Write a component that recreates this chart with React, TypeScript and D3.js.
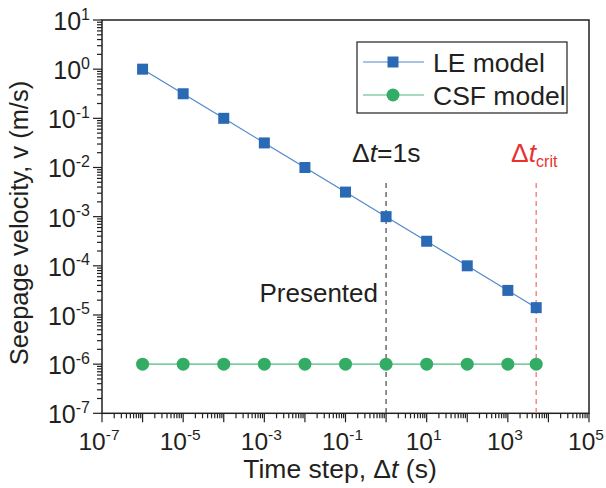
import React from "react";
import * as d3 from "d3";

const timeSteps = [1e-6, 1e-5, 1e-4, 1e-3, 1e-2, 1e-1, 1, 10, 100, 1000, 5000];
const leVelocity = [1, 0.316, 0.1, 0.0316, 0.01, 0.00316, 0.001, 3.16e-4, 1e-4, 3.16e-5, 1.41e-5];
const csfVelocity = [1e-6, 1e-6, 1e-6, 1e-6, 1e-6, 1e-6, 1e-6, 1e-6, 1e-6, 1e-6, 1e-6];
const xTickExps = [-7, -5, -3, -1, 1, 3, 5];
const yTickExps = [1, 0, -1, -2, -3, -4, -5, -6, -7];
const presentedStep = 1;
const criticalStep = 5000;

const W = 606, H = 488;
const L = 102, R = 589, T = 20, B = 413.3;
const FONT = "'Liberation Sans', Arial, Helvetica, sans-serif";
const AX = "#231f20";
const BLUE = "#2a6ab5";
const BLUE_LINE = "#4f88c9";
const GREEN = "#33ad66";
const GREEN_LINE = "#4dbb7b";
const RED = "#e8312f";

export default function App() {
  const x = d3.scaleLog().domain([1e-7, 1e5]).range([L, R]);
  const y = d3.scaleLog().domain([1e-7, 1e1]).range([B, T]);
  const le = timeSteps.map((t, i) => [t, leVelocity[i]] as [number, number]);
  const csf = timeSteps.map((t, i) => [t, csfVelocity[i]] as [number, number]);
  const line = d3.line<[number, number]>().x(d => x(d[0])).y(d => y(d[1]));

  const xMinor: number[] = [];
  for (let e = -7; e < 5; e++) for (let m = 1; m <= 9; m++) xMinor.push(m * Math.pow(10, e));
  const yMinor: number[] = [];
  for (let e = -7; e < 1; e++) for (let m = 1; m <= 9; m++) yMinor.push(m * Math.pow(10, e));

  return (
    <div style={{ position: "fixed", left: 0, top: 0 }}>
      <svg width={W} height={H} style={{ display: "block", background: "#fff" }} fontFamily={FONT}>
        {/* frame */}
        <rect x={L} y={T} width={R - L} height={B - T} fill="none" stroke={AX} strokeWidth={1.5} />
        {/* x ticks */}
        {xMinor.map((v, i) => {
          const major = Math.abs(Math.log10(v) - Math.round(Math.log10(v))) < 1e-9;
          return <line key={"xm" + i} x1={x(v)} x2={x(v)} y1={B} y2={B + (major ? 9 : 5)} stroke={AX} strokeWidth={1.2} />;
        })}
        {yMinor.map((v, i) => {
          const major = Math.abs(Math.log10(v) - Math.round(Math.log10(v))) < 1e-9;
          return <line key={"ym" + i} x1={L} x2={L - (major ? 9 : 5)} y1={y(v)} y2={y(v)} stroke={AX} strokeWidth={1.2} />;
        })}
        <line x1={L - 9} x2={L} y1={T} y2={T} stroke={AX} strokeWidth={1.2} />
        <line x1={R} x2={R} y1={B} y2={B + 9} stroke={AX} strokeWidth={1.2} />
        {/* x tick labels */}
        {xTickExps.map(e => (
          <text key={"xl" + e} x={x(Math.pow(10, e)) - 3} y={450} fontSize={24.5} textAnchor="middle" fill={AX}>
            10<tspan fontSize={15.5} dy={-10}>{e < 0 ? "-" + Math.abs(e) : e}</tspan>
          </text>
        ))}
        {/* y tick labels */}
        {yTickExps.map(e => (
          <text key={"yl" + e} x={90} y={y(Math.pow(10, e)) + 10} fontSize={25} textAnchor="end" fill={AX}>
            10<tspan fontSize={16} dy={-10.5}>{e < 0 ? "-" + Math.abs(e) : e}</tspan>
          </text>
        ))}
        {/* axis titles */}
        <text x={340} y={478} fontSize={26.5} textAnchor="middle" fill={AX}>
          Time step, Δ<tspan fontStyle="italic">t</tspan> (s)
        </text>
        <text transform="translate(28,223) rotate(-90)" fontSize={25.5} textAnchor="middle" fill={AX}>
          Seepage velocity, v (m/s)
        </text>
        {/* reference lines */}
        <line x1={x(presentedStep)} x2={x(presentedStep)} y1={183} y2={B} stroke="#555" strokeWidth={1.3} strokeDasharray="5,4" />
        <line x1={x(criticalStep)} x2={x(criticalStep)} y1={183} y2={B} stroke="#f08a8a" strokeWidth={1.5} strokeDasharray="5,4" />
        <text x={352} y={162} fontSize={26.5} fill={AX}>
          Δ<tspan fontStyle="italic">t</tspan>=1s
        </text>
        <text x={511} y={162} fontSize={26.5} fill={RED}>
          Δ<tspan fontStyle="italic">t</tspan><tspan fontSize={16} dy={5}>crit</tspan>
        </text>
        <text x={378} y={302} fontSize={26} textAnchor="end" fill={AX}>Presented</text>
        {/* series */}
        <path d={line(le) || ""} fill="none" stroke={BLUE_LINE} strokeWidth={1.2} />
        <path d={line(csf) || ""} fill="none" stroke={GREEN_LINE} strokeWidth={1.2} />
        {le.map((d, i) => (
          <rect key={"s" + i} x={x(d[0]) - 5.5} y={y(d[1]) - 5.5} width={11} height={11} fill={BLUE} />
        ))}
        {csf.map((d, i) => (
          <circle key={"c" + i} cx={x(d[0])} cy={y(d[1])} r={6.5} fill={GREEN} />
        ))}
        {/* legend */}
        <rect x={357} y={42} width={210} height={71} fill="#fff" stroke={AX} strokeWidth={1.2} />
        <line x1={363} x2={424} y1={62} y2={62} stroke={BLUE_LINE} strokeWidth={1.2} />
        <rect x={393 - 5.5} y={62 - 5.5} width={11} height={11} fill={BLUE} />
        <text x={433} y={71.5} fontSize={26.5} fill={AX}>LE model</text>
        <line x1={363} x2={424} y1={95} y2={95} stroke={GREEN_LINE} strokeWidth={1.2} />
        <circle cx={393} cy={95} r={6.5} fill={GREEN} />
        <text x={433} y={104.5} fontSize={26.5} fill={AX}>CSF model</text>
      </svg>
    </div>
  );
}
